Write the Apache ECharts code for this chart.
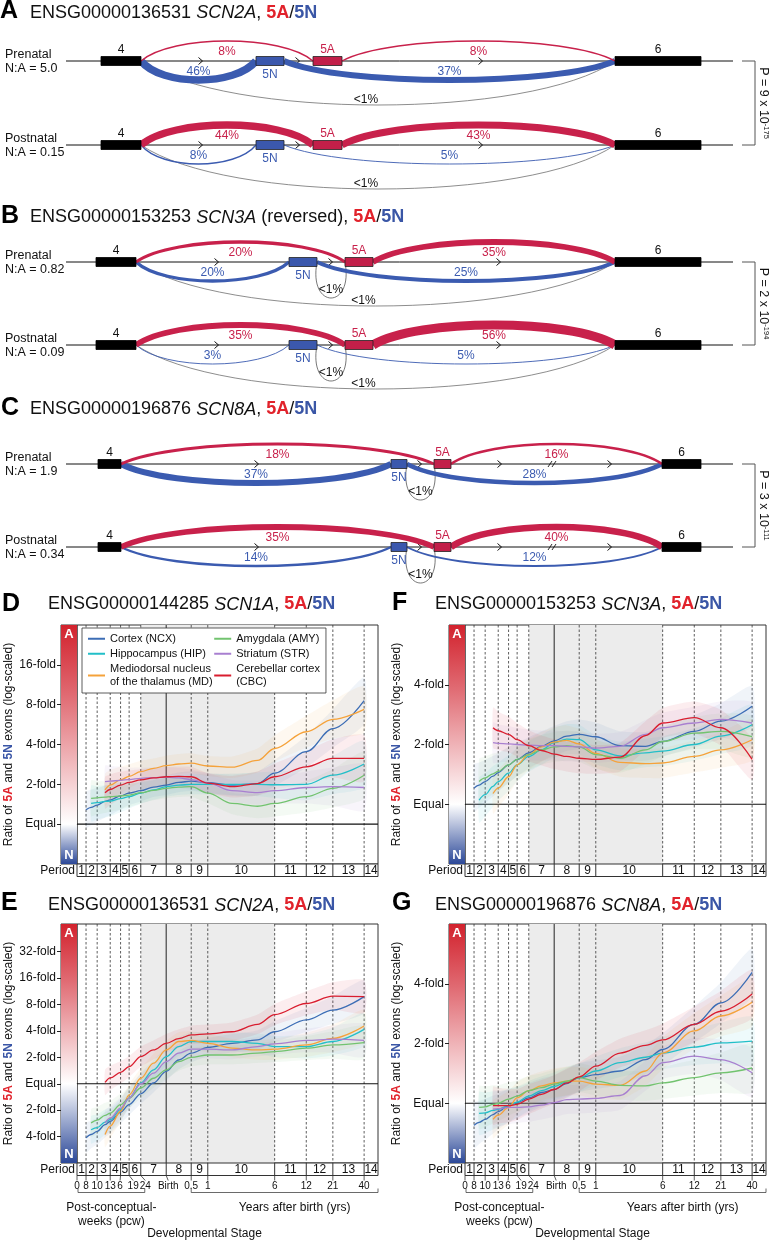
<!DOCTYPE html>
<html>
<head>
<meta charset="utf-8">
<script src="https://cdn.jsdelivr.net/npm/echarts@6/dist/echarts.min.js"></script>
<style>
html,body{margin:0;padding:0;background:#fff;}
#chart{width:769px;height:1241px;}
</style>
</head>
<body>
<div id="chart"></div>
<script>
/* ================= DATA ================= */
/* --- splice-junction diagrams (A, B, C) --- */
const geneIdsTop  = ['ENSG00000136531', 'ENSG00000153253', 'ENSG00000196876'];
const geneSymsTop = ['SCN2A', 'SCN3A', 'SCN8A'];
const geneNotes   = ['', ' (reversed)', ''];
const stageNames  = ['Prenatal', 'Postnatal'];
const naRatios    = [['5.0', '0.15'], ['0.82', '0.09'], ['1.9', '0.34']];
// exon coordinates along the diagram (diagram units)
const exon4  = [[101, 141], [96, 136], [98, 121]];
const exon5N = [[256, 284], [289, 317], [391, 407]];
const exon5A = [[313, 342], [345, 373], [434, 451]];
const exon6  = [[615, 701], [615, 701], [662, 701]];
const intronSpan   = [66, 733];
const strandArrows = [[201, 298, 481], [217, 331, 499], [257, 420, 500, 610]];
const intronBreaks = [[], [], [553]];
// junction usage (%) : [prenatal, postnatal]
const pct4to5A = [[8, 44], [20, 35], [18, 35]];
const pct5Ato6 = [[8, 43], [35, 56], [16, 40]];
const pct4to5N = [[46, 8], [20, 3], [37, 14]];
const pct5Nto6 = [[37, 5], [25, 5], [28, 12]];
const skip4to6   = [['<1%', '<1%'], ['<1%', '<1%'], [null, null]];
const loop5Nto5A = [[null, null], ['<1%', '<1%'], ['<1%', '<1%']];
const pMantissa = ['9', '2', '3'];
const pExponent = ['-175', '-194', '-111'];

/* --- developmental trajectories (D, E, F, G) --- */
const regionNames = ['Cortex (NCX)', 'Hippocampus (HIP)', 'Mediodorsal nucleus\nof the thalamus (MD)',
                     'Amygdala (AMY)', 'Striatum (STR)', 'Cerebellar cortex\n(CBC)'];
// sample ages, days post conception
const sampleDays = [56, 62, 70, 82, 91, 112, 133, 168, 217, 280, 360, 462, 645, 1050, 1750, 2470, 4660, 7945, 14880];
// log2(5A / 5N) values
const D_NCX = [0.36,0.42,0.48,0.57,0.61,0.71,0.78,0.84,0.93,0.98,1.05,1.08,1.04,0.98,1.02,1.28,1.82,2.40,3.10];
const D_HIP = [null,0.52,0.54,0.57,0.58,0.64,0.69,0.78,0.86,0.94,0.98,1.00,1.00,1.00,1.00,0.99,1.00,1.23,1.51];
const D_MD  = [null,null,null,0.86,0.98,1.11,1.20,1.32,1.40,1.47,1.51,1.53,1.46,1.43,1.60,1.90,2.32,2.63,2.88];
const D_AMY = [null,0.65,0.66,0.68,0.69,0.71,0.73,0.79,0.85,0.90,0.93,0.94,0.78,0.52,0.45,0.52,0.69,0.90,1.23];
const D_STR = [null,null,null,1.07,1.08,1.10,1.12,1.15,1.17,1.18,1.16,1.12,1.03,0.84,0.79,0.84,0.92,0.94,0.92];
const D_CBC = [null,null,null,0.79,0.87,0.98,1.05,1.11,1.16,1.19,1.20,1.19,1.03,0.94,1.02,1.19,1.44,1.65,1.65];

const E_NCX = [-2.05,-1.92,-1.80,-1.55,-1.42,-1.08,-0.79,-0.38,0.03,0.47,0.90,1.16,1.38,1.53,1.66,1.97,2.42,2.79,3.30];
const E_HIP = [null,-1.74,-1.66,-1.45,-1.36,-0.98,-0.54,0.03,0.53,1.03,1.41,1.60,1.60,1.60,1.53,1.41,1.41,1.60,2.06];
const E_MD  = [null,null,null,-1.92,-1.60,-1.04,-0.42,0.21,0.78,1.28,1.60,1.64,1.53,1.35,1.28,1.31,1.47,1.72,2.19];
const E_AMY = [null,-1.48,-1.38,-1.20,-1.11,-0.79,-0.54,-0.16,0.21,0.53,0.84,1.00,1.09,1.09,1.16,1.22,1.35,1.47,1.56];
const E_STR = [null,null,null,-1.48,-1.30,-0.92,-0.54,0.00,0.40,0.84,1.16,1.31,1.31,1.28,1.41,1.51,1.64,1.69,1.64];
const E_CBC = [null,null,null,0.05,0.22,0.43,0.65,1.03,1.28,1.53,1.71,1.85,1.89,1.97,2.25,2.62,3.04,3.32,3.30];

const F_NCX = [0.27,0.32,0.38,0.47,0.53,0.66,0.75,0.86,0.97,1.06,1.14,1.17,1.13,0.98,0.97,1.05,1.22,1.39,1.64];
const F_HIP = [null,0.07,0.16,0.30,0.38,0.52,0.66,0.80,0.91,1.03,1.09,1.08,0.91,0.81,0.86,0.89,1.00,1.14,1.33];
const F_MD  = [null,null,null,0.18,0.27,0.46,0.66,0.83,0.96,1.04,1.07,1.01,0.85,0.70,0.68,0.69,0.80,0.91,1.08];
const F_AMY = [null,0.38,0.44,0.51,0.55,0.66,0.75,0.83,0.91,0.96,0.98,0.96,0.83,0.77,0.91,1.05,1.19,1.22,1.13];
const F_STR = [null,null,null,1.03,1.02,1.01,1.00,0.99,0.98,0.98,0.97,0.96,0.94,0.97,1.17,1.28,1.36,1.42,1.36];
const F_CBC = [null,null,null,1.28,1.23,1.17,1.08,0.98,0.90,0.84,0.80,0.77,0.75,0.79,1.15,1.36,1.45,1.28,0.75];

const G_NCX = [-0.37,-0.32,-0.27,-0.19,-0.14,-0.04,0.01,0.09,0.18,0.23,0.33,0.43,0.48,0.54,0.73,0.90,1.32,1.68,2.19];
const G_HIP = [null,-0.17,-0.16,-0.12,-0.10,-0.04,0.02,0.12,0.21,0.28,0.36,0.43,0.54,0.68,0.77,0.84,0.94,1.01,1.04];
const G_MD  = [null,null,null,-0.27,-0.20,-0.07,0.09,0.21,0.29,0.34,0.37,0.37,0.32,0.30,0.54,0.84,1.21,1.46,1.69];
const G_AMY = [null,-0.07,-0.06,-0.02,0.00,0.07,0.12,0.21,0.26,0.32,0.37,0.43,0.37,0.30,0.29,0.34,0.43,0.51,0.59];
const G_STR = [null,null,null,-0.10,-0.09,-0.07,-0.07,-0.06,-0.03,0.01,0.06,0.07,0.08,0.13,0.46,0.68,0.79,0.73,0.51];
const G_CBC = [null,null,null,-0.04,-0.04,-0.04,-0.02,0.07,0.15,0.23,0.34,0.44,0.62,0.84,0.97,1.06,1.32,1.54,1.83];

// confidence band half-width (log2 units) at each sample age
const D_SPREAD = [0.45,0.45,0.42,0.40,0.38,0.34,0.30,0.27,0.25,0.25,0.25,0.25,0.25,0.27,0.30,0.33,0.40,0.48,0.58];
const E_SPREAD = [0.55,0.52,0.50,0.48,0.46,0.42,0.40,0.38,0.36,0.35,0.35,0.35,0.35,0.35,0.37,0.40,0.45,0.52,0.62];
const F_SPREAD = [0.40,0.38,0.36,0.34,0.32,0.30,0.28,0.26,0.25,0.25,0.25,0.25,0.24,0.24,0.24,0.25,0.27,0.30,0.34];
const G_SPREAD = [0.38,0.36,0.34,0.32,0.30,0.28,0.26,0.25,0.24,0.24,0.24,0.24,0.24,0.24,0.25,0.27,0.30,0.34,0.40];

// developmental periods
const pcwBounds  = [8, 10, 13, 16, 19, 24, 40];      // post-conceptual weeks (40 = birth)
const yearBounds = [0.5, 1, 6, 12, 21, 40];          // years after birth
const periodLabels = ['1','2','3','4','5','6','7','8','9','10','11','12','13','14'];
const ageTickLabels = ['0','8','10','13','6','19','24','Birth','0.5','1','6','12','21','40'];
const yTickLabelEqual = 'Equal';

/* ================= STYLE / LAYOUT ================= */
const FONT = '"Liberation Sans", Arial, Helvetica, sans-serif';
const INK = '#111';
const RED_ARC = '#c8214b', BLUE_ARC = '#3b5bb0';
const TITLE_RED = '#e1222b', TITLE_BLUE = '#3a56a6';
const regionColors = ['#3c6db5', '#22bfc8', '#f5a23a', '#72c36f', '#a87fd0', '#d91d2f'];
const L10 = Math.log10;
const X_MIN_DAYS = 46.7, X_MAX_DAYS = 19665;
const BIRTH_DAYS = 280;
const boundaryDays = pcwBounds.map(w => w * 7).concat(yearBounds.map(y => BIRTH_DAYS + 365 * y));
const ageLabelDx = [0, 0, 0, 0, -0.5, 4, 4.5, 2, 0, 0, 0, 0, 0, 0];
const spliceRowsY = [[61, 145], [262, 345], [464, 547]];

const grid = [], xAxis = [], yAxis = [], series = [], title = [], graphic = [];
function addGrid(g, xa, ya) {
  grid.push(g);
  const gi = grid.length - 1;
  xa.gridIndex = gi; ya.gridIndex = gi;
  xAxis.push(xa); yAxis.push(ya);
  return { x: xAxis.length - 1, y: yAxis.length - 1 };
}
function hexA(hex, a) {
  const n = parseInt(hex.slice(1), 16);
  return `rgba(${(n >> 16) & 255},${(n >> 8) & 255},${n & 255},${a})`;
}
function seg(x1, y1, x2, y2, stroke, w, dash) {
  return { type: 'line', shape: { x1, y1, x2, y2 }, style: { stroke, lineWidth: w, lineDash: dash || null } };
}
function txt(text, x, y, fill, size, align, weight) {
  return { type: 'text', style: { text, x, y, fill, font: `${weight || 'normal'} ${size}px ${FONT}`,
    align: align || 'center', textAlign: align || 'center', verticalAlign: 'middle', textVerticalAlign: 'middle' } };
}
function arcW(p) { return Math.max(0.9, p * 0.165); }
function arc(xa, xb, y0, h, stroke, w) {
  const d = xb - xa, k = h * 4 / 3;
  return { type: 'bezierCurve', shape: { x1: xa, y1: y0, x2: xb, y2: y0, cpx1: xa + 0.18 * d, cpy1: y0 + k, cpx2: xb - 0.18 * d, cpy2: y0 + k },
           style: { stroke, lineWidth: w, fill: null } };
}

/* ---------- splice rows ---------- */
function spliceRow(api, g, r) {
  const X = v => api.coord([v, 0])[0];
  const y0 = api.coord([0, 0])[1];
  const ch = [];
  ch.push(seg(X(intronSpan[0]), y0, X(intronSpan[1]), y0, INK, 1));
  strandArrows[g].forEach(a => {
    const x = X(a);
    ch.push({ type: 'polyline', shape: { points: [[x - 2.5, y0 - 3.5], [x + 1.5, y0], [x - 2.5, y0 + 3.5]] }, style: { stroke: INK, lineWidth: 1, fill: null } });
  });
  intronBreaks[g].forEach(b => {
    const x = X(b);
    ch.push(seg(x - 5, y0 + 3, x - 1, y0 - 3, INK, 0.9));
    ch.push(seg(x - 1, y0 + 3, x + 3, y0 - 3, INK, 0.9));
  });
  const e4 = exon4[g], eN = exon5N[g], eA = exon5A[g], e6 = exon6[g];
  if (skip4to6[g][r]) {
    ch.push(arc(X(e4[1]), X(e6[0]), y0, 44, '#707070', 0.8));
  }
  if (loop5Nto5A[g][r]) {
    const xa = X(eN[1]), xb = X(eA[0]);
    ch.push({ type: 'bezierCurve', shape: { x1: xa, y1: y0, x2: xb, y2: y0, cpx1: xa - 9, cpy1: y0 + 48, cpx2: xb + 9, cpy2: y0 + 48 },
              style: { stroke: '#555', lineWidth: 0.8, fill: null } });
  }
  ch.push(arc(X(e4[1]), X(eN[0]), y0, 19, BLUE_ARC, arcW(pct4to5N[g][r])));
  ch.push(arc(X(eN[1]), X(e6[0]), y0, 19, BLUE_ARC, arcW(pct5Nto6[g][r])));
  ch.push(arc(X(e4[1]), X(eA[0]), y0, -20, RED_ARC, arcW(pct4to5A[g][r])));
  ch.push(arc(X(eA[1]), X(e6[0]), y0, -20, RED_ARC, arcW(pct5Ato6[g][r])));
  // exons
  const box = (e, fill, stroke) => ({ type: 'rect', shape: { x: X(e[0]), y: y0 - 4.5, width: X(e[1]) - X(e[0]), height: 9 },
                                       style: { fill, stroke, lineWidth: 0.8 } });
  ch.push(box(e4, '#000', '#000'));
  ch.push(box(e6, '#000', '#000'));
  ch.push(box(eN, '#3b58ad', '#222'));
  ch.push(box(eA, '#c21f49', '#222'));
  const mid = e => (X(e[0]) + X(e[1])) / 2;
  ch.push(txt('4', mid(e4), y0 - 11, INK, 12));
  ch.push(txt('6', mid(e6), y0 - 11, INK, 12));
  ch.push(txt('5A', mid(eA), y0 - 11, RED_ARC, 12));
  ch.push(txt('5N', mid(eN), y0 + 14, BLUE_ARC, 12));
  // junction labels
  ch.push(txt(pct4to5A[g][r] + '%', (X(e4[1]) + X(eA[0])) / 2, y0 - 9, RED_ARC, 12));
  ch.push(txt(pct5Ato6[g][r] + '%', (X(eA[1]) + X(e6[0])) / 2, y0 - 9, RED_ARC, 12));
  ch.push(txt(pct4to5N[g][r] + '%', (X(e4[1]) + X(eN[0])) / 2, y0 + 11, BLUE_ARC, 12));
  ch.push(txt(pct5Nto6[g][r] + '%', (X(eN[1]) + X(e6[0])) / 2, y0 + 11, BLUE_ARC, 12));
  if (skip4to6[g][r]) ch.push(txt(skip4to6[g][r], (X(e4[1]) + X(e6[0])) / 2 - 12, y0 + 39, INK, 12));
  if (loop5Nto5A[g][r]) ch.push(txt(loop5Nto5A[g][r], (X(eN[1]) + X(eA[0])) / 2, y0 + 28, INK, 12));
  // row labels
  ch.push(txt(stageNames[r], X(5), y0 - 6, INK, 12.5, 'left'));
  ch.push(txt('N:A = ' + naRatios[g][r], X(5), y0 + 8, INK, 12.5, 'left'));
  return { type: 'group', children: ch };
}

for (let g = 0; g < 3; g++) {
  for (let r = 0; r < 2; r++) {
    const y0 = spliceRowsY[g][r];
    const ax = addGrid({ left: 0, top: y0 - 50, width: 769, height: 100 },
      { type: 'value', min: 0, max: 769, show: false },
      { type: 'value', min: -1, max: 1, show: false });
    series.push({ type: 'custom', xAxisIndex: ax.x, yAxisIndex: ax.y, silent: true, data: [[0, 0]],
      renderItem: (p, api) => spliceRow(api, g, r) });
  }
  const y1 = spliceRowsY[g][0], y2 = spliceRowsY[g][1];
  graphic.push({ type: 'polyline', shape: { points: [[742, y1], [755, y1], [755, y2], [742, y2]] }, style: { stroke: '#555', lineWidth: 1, fill: null } });
  graphic.push({ type: 'text', x: 763, y: (y1 + y2) / 2, rotation: -Math.PI / 2,
    style: { text: `{m|P = ${pMantissa[g]} x 10}{s|${pExponent[g]}}`, align: 'center', textAlign: 'center', verticalAlign: 'middle', textVerticalAlign: 'middle',
      rich: { m: { fontSize: 12.5, fontFamily: FONT, fill: INK, color: INK, lineHeight: 15 },
              s: { fontSize: 7.5, fontFamily: FONT, fill: INK, color: INK, verticalAlign: 'top', lineHeight: 15 } } } });
}

/* ---------- titles ---------- */
const titleRich = {
  n: { fontSize: 18, color: INK, fontFamily: FONT, fontWeight: 'normal' },
  i: { fontSize: 18, color: INK, fontFamily: FONT, fontStyle: 'italic', fontWeight: 'normal' },
  r: { fontSize: 18, color: TITLE_RED, fontFamily: FONT, fontWeight: 'bold' },
  b: { fontSize: 18, color: TITLE_BLUE, fontFamily: FONT, fontWeight: 'bold' }
};
function addTitle(letter, lx, ly, id, sym, note, tx, ty) {
  title.push({ text: letter, left: lx, top: ly, padding: 0, textStyle: { fontSize: 25, fontWeight: 'bold', color: '#000', fontFamily: FONT } });
  title.push({ text: `{n|${id} }{i|${sym}}{n|${note}, }{r|5A}{n|/}{b|5N}`, left: tx, top: ty, padding: 0,
               textStyle: { fontWeight: 'normal', fontSize: 18, rich: titleRich } });
}
addTitle('A', 0, -1, geneIdsTop[0], geneSymsTop[0], geneNotes[0], 30, 4);
addTitle('B', 1, 204, geneIdsTop[1], geneSymsTop[1], geneNotes[1], 30, 208.5);
addTitle('C', 1, 396, geneIdsTop[2], geneSymsTop[2], geneNotes[2], 30, 400.5);

/* ---------- trajectory panels ---------- */
const linePanels = [
  { letter: 'D', id: 'ENSG00000144285', sym: 'SCN1A', lx: 2, ly: 592, tx: 48, ty: 595.5, left: 61, top: 625,
    yRange: [-1, 5], yTicks: [0, 1, 2, 3, 4], vals: [D_NCX, D_HIP, D_MD, D_AMY, D_STR, D_CBC], spread: D_SPREAD, ages: false },
  { letter: 'F', id: 'ENSG00000153253', sym: 'SCN3A', lx: 392, ly: 591, tx: 435, ty: 595.5, left: 449, top: 625,
    yRange: [-1, 3], yTicks: [0, 1, 2], vals: [F_NCX, F_HIP, F_MD, F_AMY, F_STR, F_CBC], spread: F_SPREAD, ages: false },
  { letter: 'E', id: 'ENSG00000136531', sym: 'SCN2A', lx: 1, ly: 891, tx: 48, ty: 896.5, left: 61, top: 924,
    yRange: [-3, 6.05], yTicks: [-2, -1, 0, 1, 2, 3, 4, 5], vals: [E_NCX, E_HIP, E_MD, E_AMY, E_STR, E_CBC], spread: E_SPREAD, ages: true },
  { letter: 'G', id: 'ENSG00000196876', sym: 'SCN8A', lx: 392, ly: 891, tx: 435, ty: 896.5, left: 449, top: 924,
    yRange: [-1, 3], yTicks: [0, 1, 2], vals: [G_NCX, G_HIP, G_MD, G_AMY, G_STR, G_CBC], spread: G_SPREAD, ages: true }
];
const CB_W = 16, PLOT_W = 301, PLOT_H = 239, PERIOD_H = 12.5;
const XL = L10(X_MIN_DAYS), XR = L10(X_MAX_DAYS);

function colorBar(api, p) {
  const tl = api.coord([0, p.yRange[1]]), mid = api.coord([1, 0]), bl = api.coord([0, p.yRange[0]]);
  const w = mid[0] - tl[0];
  return { type: 'group', children: [
    { type: 'rect', shape: { x: tl[0], y: tl[1], width: w, height: mid[1] - tl[1] },
      style: { fill: new echarts.graphic.LinearGradient(0, 0, 0, 1, [{ offset: 0, color: '#d2222d' }, { offset: 0.35, color: '#e06a72' }, { offset: 1, color: '#ffffff' }]) } },
    { type: 'rect', shape: { x: tl[0], y: mid[1], width: w, height: bl[1] - mid[1] },
      style: { fill: new echarts.graphic.LinearGradient(0, 0, 0, 1, [{ offset: 0, color: '#ffffff' }, { offset: 1, color: '#2b4898' }]) } },
    txt('A', tl[0] + w / 2, tl[1] + 9, '#fff', 13, 'center', 'bold'),
    txt('N', tl[0] + w / 2, bl[1] - 9, '#fff', 13, 'center', 'bold')
  ] };
}
function plotBackground(api, p) {
  const X = d => api.coord([L10(d), 0])[0];
  const yt = api.coord([XL, p.yRange[1]])[1], yb = api.coord([XL, p.yRange[0]])[1];
  const ye = api.coord([XL, 0])[1];
  const ch = [];
  const s0 = X(boundaryDays[5]), s1 = X(boundaryDays[9]);
  ch.push({ type: 'rect', shape: { x: s0, y: yt, width: s1 - s0, height: yb - yt }, style: { fill: '#ececec' } });
  boundaryDays.forEach(d => {
    const x = X(d);
    if (d === BIRTH_DAYS) ch.push(seg(x, yt, x, yb, '#444', 1.2));
    else ch.push(seg(x, yt, x, yb, '#333', 0.8, [2.5, 2]));
  });
  ch.push(seg(X(X_MIN_DAYS), ye, X(X_MAX_DAYS), ye, '#111', 1.2));
  return { type: 'group', children: ch };
}
function bands(api, p) {
  const ch = [];
  p.vals.forEach((vals, k) => {
    const up = [], lo = [];
    sampleDays.forEach((d, i) => {
      if (vals[i] != null) {
        up.push(api.coord([L10(d), vals[i] + p.spread[i]]));
        lo.push(api.coord([L10(d), vals[i] - p.spread[i]]));
      }
    });
    ch.push({ type: 'polygon', shape: { points: up.concat(lo.reverse()), smooth: 0.2 }, style: { fill: hexA(regionColors[k], 0.08) } });
  });
  return { type: 'group', children: ch };
}
function periodRow(api, p) {
  const X = d => api.coord([L10(d), 0])[0];
  const yb = api.coord([XL, 0])[1], yt = api.coord([XL, 1])[1], ym = (yb + yt) / 2;
  const edges = [X_MIN_DAYS].concat(boundaryDays, [X_MAX_DAYS]);
  const ch = [];
  ch.push({ type: 'rect', shape: { x: X(edges[0]), y: yt, width: X(edges[edges.length - 1]) - X(edges[0]), height: yb - yt },
            style: { fill: '#fff', stroke: '#333', lineWidth: 1 } });
  for (let i = 1; i < edges.length - 1; i++) ch.push(seg(X(edges[i]), yt, X(edges[i]), yb, '#333', 1));
  periodLabels.forEach((t, i) => ch.push(txt(t, (X(edges[i]) + X(edges[i + 1])) / 2, ym + 0.5, INK, 12)));
  ch.push(txt('Period', X(edges[0]) - 2, ym + 0.5, INK, 12, 'right'));
  if (p.ages) {
    const tickDays = [X_MIN_DAYS].concat(boundaryDays);
    tickDays.forEach((d, i) => {
      const x = X(d), dx = ageLabelDx[i];
      ch.push(seg(x, yb, x + dx, yb + 5, '#333', 0.8));
      ch.push(txt(ageTickLabels[i], x + dx, yb + 11, INK, 10));
    });
    const by = yb + 17;
    const a0 = X(X_MIN_DAYS) + 1, a1 = X(pcwBounds[5] * 7) + 4;
    ch.push({ type: 'polyline', shape: { points: [[a0, by - 4], [a0, by], [a1, by], [a1, by - 4]] }, style: { stroke: '#444', lineWidth: 0.8, fill: null } });
    ch.push(txt('Post-conceptual-', (a0 + a1) / 2, by + 15, INK, 12));
    ch.push(txt('weeks (pcw)', (a0 + a1) / 2, by + 29, INK, 12));
    const b0 = X(BIRTH_DAYS + 365 * yearBounds[0]), b1 = X(X_MAX_DAYS);
    ch.push({ type: 'polyline', shape: { points: [[b0, by - 4], [b0, by], [b1, by], [b1, by - 4]] }, style: { stroke: '#444', lineWidth: 0.8, fill: null } });
    ch.push(txt('Years after birth (yrs)', (b0 + b1) / 2 + 10, by + 15, INK, 12));
    ch.push(txt('Developmental Stage', (X(X_MIN_DAYS) + X(X_MAX_DAYS)) / 2 - 23, by + 41, INK, 12));
  }
  return { type: 'group', children: ch };
}

linePanels.forEach(p => {
  addTitle(p.letter, p.lx, p.ly, p.id, p.sym, '', p.tx, p.ty);
  // colour bar grid (carries the y axis)
  const cb = addGrid({ left: p.left, top: p.top, width: CB_W, height: PLOT_H, show: true, borderColor: '#333', borderWidth: 1 },
    { type: 'value', min: 0, max: 1, show: false },
    { type: 'value', min: p.yRange[0], max: p.yRange[1], splitLine: { show: false }, axisLine: { show: false },
      axisTick: { show: true, customValues: p.yTicks, length: 4, lineStyle: { color: '#222' } },
      axisLabel: { show: true, customValues: p.yTicks, margin: 5, fontSize: 12, color: INK, fontFamily: FONT,
        formatter: v => Math.round(v) === 0 ? yTickLabelEqual : Math.pow(2, Math.abs(Math.round(v))) + '-fold' },
      name: '{t|Ratio of }{r|5A}{t| and }{b|5N}{t| exons (log-scaled)}', nameLocation: 'middle', nameRotate: 90, nameGap: 46,
      nameTextStyle: { rich: {
        t: { fontSize: 12, color: INK, fontFamily: FONT },
        r: { fontSize: 12, color: TITLE_RED, fontFamily: FONT, fontWeight: 'bold' },
        b: { fontSize: 12, color: TITLE_BLUE, fontFamily: FONT, fontWeight: 'bold' } } } });
  series.push({ type: 'custom', xAxisIndex: cb.x, yAxisIndex: cb.y, silent: true, data: [[0, 0]], z: 1,
    renderItem: (prm, api) => colorBar(api, p) });
  // data grid
  const dg = addGrid({ left: p.left + CB_W, top: p.top, width: PLOT_W, height: PLOT_H, show: true, borderColor: '#333', borderWidth: 1 },
    { type: 'value', min: XL, max: XR, show: false },
    { type: 'value', min: p.yRange[0], max: p.yRange[1], show: false });
  series.push({ type: 'custom', xAxisIndex: dg.x, yAxisIndex: dg.y, silent: true, data: [[XL, 0]], z: 1, clip: true,
    renderItem: (prm, api) => plotBackground(api, p) });
  series.push({ type: 'custom', xAxisIndex: dg.x, yAxisIndex: dg.y, silent: true, data: [[XL, 0]], z: 2, clip: true,
    renderItem: (prm, api) => bands(api, p) });
  regionNames.forEach((name, k) => {
    const vals = p.vals[k];
    const data = [];
    sampleDays.forEach((d, i) => { if (vals[i] != null) data.push([L10(d), vals[i]]); });
    series.push({ type: 'line', name, xAxisIndex: dg.x, yAxisIndex: dg.y, data, smooth: 0.35, smoothMonotone: 'x',
      showSymbol: false, symbol: 'none', silent: true, z: 3,
      lineStyle: { color: regionColors[k], width: 1.3 }, itemStyle: { color: regionColors[k] } });
  });
  // period row grid
  const pg = addGrid({ left: p.left + CB_W, top: p.top + PLOT_H, width: PLOT_W, height: PERIOD_H },
    { type: 'value', min: XL, max: XR, show: false },
    { type: 'value', min: 0, max: 1, show: false });
  series.push({ type: 'custom', xAxisIndex: pg.x, yAxisIndex: pg.y, silent: true, data: [[XL, 0]], z: 2,
    renderItem: (prm, api) => periodRow(api, p) });
});

const option = {
  animation: false,
  backgroundColor: '#fff',
  textStyle: { fontFamily: FONT },
  title, grid, xAxis, yAxis, series, graphic,
  legend: {
    data: regionNames, orient: 'vertical', left: 82, top: 628, height: 64, itemWidth: 17, itemHeight: 2, itemGap: 1.5,
    icon: 'rect', padding: [4, 6, 4, 6], backgroundColor: '#fff', borderColor: '#333', borderWidth: 0.8,
    textStyle: { fontSize: 11, lineHeight: 13.5, color: INK, fontFamily: FONT }, selectedMode: false, z: 10
  }
};
const chart = echarts.init(document.getElementById('chart'), null, { renderer: 'canvas' });
chart.setOption(option);
</script>
</body>
</html>
